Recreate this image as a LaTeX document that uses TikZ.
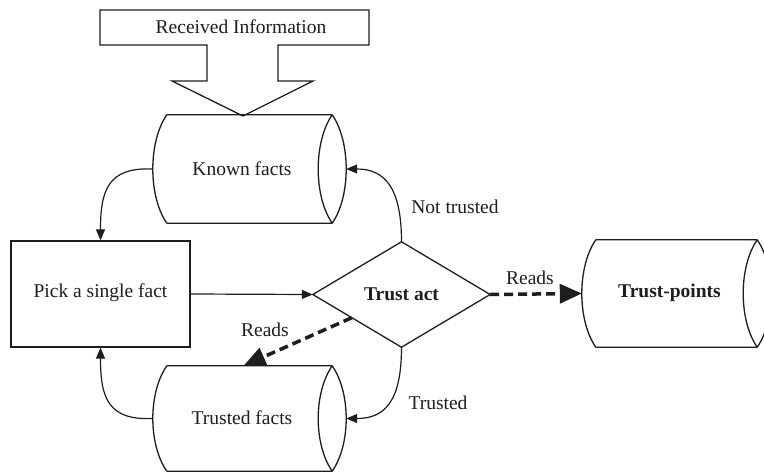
\documentclass[tikz,border=0pt]{standalone}
\usepackage{fontspec}
\setmainfont{Liberation Serif}
\usetikzlibrary{arrows.meta,calc}
\definecolor{ink}{RGB}{30,30,30}
\newcommand\cylout[1]{%
  \draw[shapeline] ([xshift=14pt]#1.north west) -- ([xshift=-14pt]#1.north east)
    ([xshift=14pt]#1.south west) -- ([xshift=-14pt]#1.south east)
    ([xshift=14pt]#1.north west) .. controls ([xshift=-4.67pt,yshift=-27pt]#1.north west) and ([xshift=-4.67pt,yshift=27pt]#1.south west) .. ([xshift=14pt]#1.south west)
    ([xshift=-14pt]#1.north east) .. controls ([xshift=4.67pt,yshift=-27pt]#1.north east) and ([xshift=4.67pt,yshift=27pt]#1.south east) .. ([xshift=-14pt]#1.south east)
    ([xshift=-14pt]#1.north east) .. controls ([xshift=-32.67pt,yshift=-27pt]#1.north east) and ([xshift=-32.67pt,yshift=27pt]#1.south east) .. ([xshift=-14pt]#1.south east);}
\tikzset{
  txt/.style={font=\fontsize{19.5}{22}\selectfont, text=ink, inner sep=0pt},
  btxt/.style={txt, font=\fontsize{19.5}{22}\selectfont\bfseries},
  shapeline/.style={draw=ink, line width=1.3pt, line join=miter},
  holder/.style={draw=none, inner sep=0pt, minimum width=#1},
  arr/.style={draw=ink, line width=1.2pt, -{Triangle[length=11pt,width=9pt]}},
  darr/.style={draw=ink, line width=3.5pt, dash pattern=on 9pt off 5pt, -{Triangle[length=22pt,width=19pt]}}
}
\begin{document}
\begin{tikzpicture}[x=1pt,y=-1pt]
\useasboundingbox (0,0) rectangle (764,472);
\clip (0,0) rectangle (764,472);
\fill[white] (0,0) rectangle (764,472);
% Received information block arrow
\draw[shapeline] (100,10) -- (369,10) -- (369,45) -- (278,45) -- (278,81) -- (313,81) -- (243,116) -- (172,81) -- (207,81) -- (207,45) -- (100,45) -- cycle;
\node[txt] (ri) at (241,27) {Received Information};
% cylinders
\node[holder=193pt, minimum height=108pt] (kf) at (249.5,169) {};
\cylout{kf}
\node[txt] (kft) at (242,169) {Known facts};
\node[holder=193pt, minimum height=105pt] (tf) at (249.5,418.5) {};
\cylout{tf}
\node[txt] (tft) at (242,418) {Trusted facts};
\node[holder=189pt, minimum height=107pt] (tp) at (676.5,293.5) {};
\cylout{tp}
\node[btxt] (tpt) at (669.5,293) {Trust-points};
% pick
\node[shapeline, minimum width=179pt, minimum height=106pt, inner sep=0pt] (pk) at (100.5,294) {};
\node[txt] (pkt) at (100.5,293) {Pick a single fact};
% diamond
\node[holder=177pt, minimum height=105pt] (ta) at (401.5,294.5) {};
\draw[shapeline] (ta.west) -- (ta.north) -- (ta.east) -- (ta.south) -- cycle;
\node[btxt] (tat) at (401.5,294) {Trust act};
% connectors
\draw[arr] (kf.west) .. controls +(-45,-2) and +(0,-50) .. (pk.north);
\draw[arr] (tf.west) .. controls +(-45,2) and +(0,50) .. (pk.south);
\draw[arr] (pk.east) -- (ta.west);
\draw[arr] (ta.north) .. controls +(0,-55) and +(38,0) .. (kf.east);
\draw[arr] (ta.south) .. controls +(0,55) and +(38,0) .. (tf.east);
\draw[darr] (ta.east) -- (tp.west);
\coordinate (rdstart) at ($(ta.west)!0.44!(ta.south)$);
\coordinate (rdend) at ([xshift=-6pt]tf.north);
\draw[darr] (rdstart) -- (rdend);
% labels
\node[txt] (lnt) at (455,207) {Not trusted};
\node[txt] (lr1) at (530,278) {Reads};
\node[txt] (lr2) at (265,330) {Reads};
\node[txt] (lt) at (438,403) {Trusted};
\end{tikzpicture}
\end{document}
